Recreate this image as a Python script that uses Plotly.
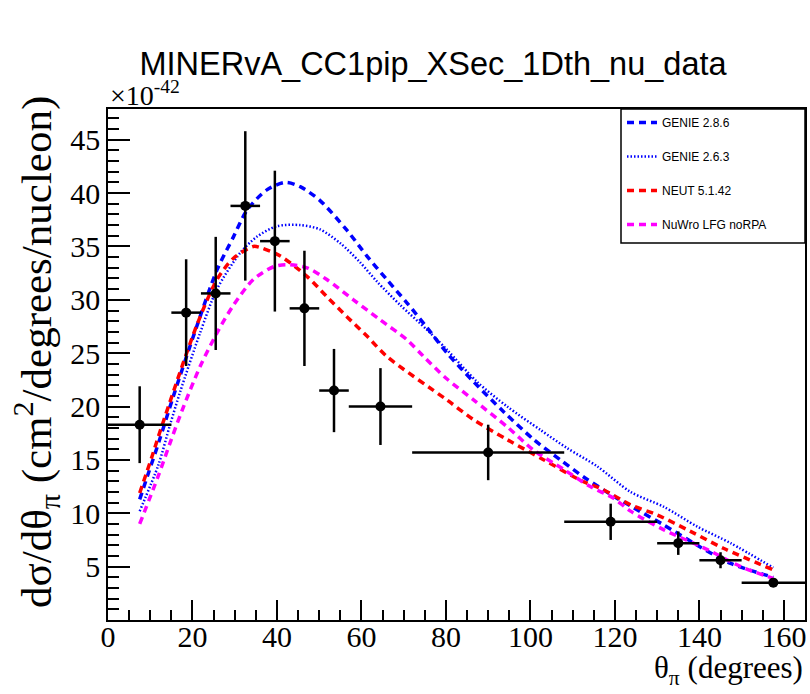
import plotly.graph_objects as go

# ---- data ----
data_x = [7.5, 18.5, 25.5, 32.5, 39.5, 46.5, 53.5, 64.5, 90, 119, 135, 145, 157.5]
bin_lo = [0, 15, 22, 29, 36, 43, 50, 57, 72, 108, 130, 140, 150]
bin_hi = [15, 22, 29, 36, 43, 50, 57, 72, 108, 130, 140, 150, 165]
data_y = [18.3, 28.8, 30.6, 38.8, 35.5, 29.2, 21.5, 20.0, 15.7, 9.2, 7.2, 5.6, 3.5]
data_err = [3.6, 5.0, 5.3, 7.0, 6.6, 5.4, 3.9, 3.6, 2.6, 1.7, 1.1, 0.75, 0.4]

genie286_x = [7.5, 9.6, 12.3, 15.5, 21.0, 25.8, 29.7, 32.9, 37.6, 42.0, 45.5, 50.2, 56.6, 61.3,
              66.0, 70.8, 75.5, 80.3, 86.6, 93.7, 100.8, 107.1, 112.6, 119.7, 124.5, 131.6,
              139.5, 147.4, 157.5]
genie286_y = [11.3, 13.8, 17.0, 21.0, 27.5, 32.8, 35.9, 38.4, 40.3, 41.0, 40.6, 39.3, 36.5, 34.1,
              31.9, 29.7, 27.4, 25.0, 22.3, 19.5, 16.9, 15.0, 13.4, 11.6, 10.5, 8.9,
              7.0, 5.3, 4.0]

genie263_x = [7.5, 11.9, 14.7, 17.1, 21.8, 25.8, 31.3, 35.2, 40.0, 45.5, 50.2, 55.0, 59.7, 63.7,
              69.2, 75.5, 80.3, 87.4, 94.5, 102.4, 108.7, 115.8, 123.7, 131.6, 139.5, 147.4, 157.5]
genie263_y = [10.2, 14.5, 18.3, 21.4, 26.9, 31.0, 34.4, 35.9, 36.9, 37.0, 36.6, 35.3, 33.5, 31.7,
              29.5, 27.2, 25.3, 22.3, 20.0, 17.8, 16.1, 14.4, 12.0, 10.6, 8.75, 7.2, 4.9]

neut_x = [7.5, 10.4, 12.6, 21.0, 25.8, 29.7, 34.4, 36.0, 40.8, 47.1, 51.8, 56.6, 61.3, 66.0,
          80.3, 86.6, 94.5, 103.2, 111.8, 117.3, 123.7, 130.0, 137.9, 145.8, 157.5]
neut_y = [11.9, 15.3, 18.0, 27.6, 31.9, 33.9, 35.0, 34.9, 34.1, 32.2, 30.3, 28.4, 26.6, 24.7,
          20.6, 18.75, 16.9, 15.0, 13.1, 12.2, 10.8, 9.85, 8.3, 6.7, 4.7]

nuwro_x = [7.5, 11.9, 14.7, 17.5, 21.8, 25.8, 29.7, 34.4, 39.2, 42.3, 47.1, 51.8, 58.1, 64.5,
           70.8, 74.7, 79.9, 86.6, 94.5, 100.8, 107.9, 114.2, 119.7, 123.7, 131.6, 141.9, 149.8, 157.5]
nuwro_y = [9.0, 13.5, 16.6, 19.6, 23.75, 26.9, 29.5, 31.9, 33.1, 33.3, 33.0, 31.9, 30.0, 28.1,
           26.25, 24.7, 22.7, 20.6, 18.1, 15.9, 14.1, 12.5, 11.4, 10.2, 8.45, 6.6, 5.0, 3.9]

x_ticks = [0, 20, 40, 60, 80, 100, 120, 140, 160]
y_ticks = [5, 10, 15, 20, 25, 30, 35, 40, 45]

# ---- figure ----
fig = go.Figure()

models = [
    ("GENIE 2.8.6", genie286_x, genie286_y, "#0000ff", "7px,5px", 3.5),
    ("GENIE 2.6.3", genie263_x, genie263_y, "#0000ff", "1.5px,2px", 2.5),
    ("NEUT 5.1.42", neut_x, neut_y, "#ff0000", "7px,5px", 3.5),
    ("NuWro LFG noRPA", nuwro_x, nuwro_y, "#ff00ff", "7px,5px", 3.5),
]
for name, xs, ys, col, dash, w in models:
    fig.add_trace(go.Scatter(
        x=xs, y=ys, mode="lines", name=name, legendgroup=name,
        line=dict(shape="spline", smoothing=0.8, color=col, dash=dash, width=w),
    ))

fig.add_trace(go.Scatter(
    x=data_x, y=data_y, mode="markers", showlegend=False,
    marker=dict(color="black", size=10),
    error_x=dict(type="data", symmetric=False,
                 array=[h - c for h, c in zip(bin_hi, data_x)],
                 arrayminus=[c - l for c, l in zip(data_x, bin_lo)],
                 color="black", thickness=2.5, width=0),
    error_y=dict(type="data", array=data_err, color="black", thickness=2.5, width=0),
))

serif = "Liberation Serif, Times New Roman, serif"
sans = "Liberation Sans, Arial, sans-serif"

W, H = 810, 694
PL, PT, PR, PB = 108, 109, 805, 620          # plot frame in page pixels
L, T, R, B = PL, PT, W - PR, H - PB
pw, ph = PR - PL, PB - PT


def px(xp):
    return (xp - PL) / pw


def py(yp):
    return (PB - yp) / ph


fig.update_layout(
    width=W, height=H,
    margin=dict(l=L, r=R, t=T, b=B, pad=0, autoexpand=False),
    paper_bgcolor="white", plot_bgcolor="white",
    showlegend=True,
    legend=dict(x=px(622), y=py(108), xanchor="left", yanchor="top",
                bgcolor="rgba(0,0,0,0)", borderwidth=0,
                font=dict(family=sans, size=12, color="black"),
                tracegroupgap=15),
    title=dict(text="MINERvA_CC1pip_XSec_1Dth_nu_data", x=433 / W, xanchor="center",
               y=1 - 64 / H, yanchor="middle", automargin=False,
               font=dict(family=sans, size=32.5, color="black")),
    xaxis=dict(range=[0, 165], tickmode="array", tickvals=x_ticks, automargin=False,
               ticks="inside", ticklen=20, tickwidth=1.5, tickcolor="black",
               ticklabelstandoff=-11,
               minor=dict(dtick=5, ticks="inside", ticklen=10, tickwidth=1.5, tickcolor="black"),
               showline=True, linecolor="black", linewidth=1.5, mirror=True,
               showgrid=False, zeroline=False,
               tickfont=dict(family=serif, size=30, color="black")),
    yaxis=dict(range=[0, 47.88], tickmode="array", tickvals=y_ticks, automargin=False,
               ticks="inside", ticklen=22, tickwidth=1.5, tickcolor="black",
               minor=dict(dtick=1, ticks="inside", ticklen=11, tickwidth=1.5, tickcolor="black"),
               showline=True, linecolor="black", linewidth=1.5, mirror=True,
               showgrid=False, zeroline=False,
               tickfont=dict(family=serif, size=30, color="black")),
    shapes=[
        dict(type="rect", xref="paper", yref="paper",
             x0=px(621), x1=1.0, y0=py(243), y1=1.0,
             line=dict(color="black", width=1.5), fillcolor="rgba(0,0,0,0)", layer="above"),
    ],
    annotations=[
        dict(text="dσ/dθ<sub>π</sub> (cm<sup>2</sup>/degrees/nucleon)", xref="paper", yref="paper",
             x=px(36), y=py(352), xanchor="center", yanchor="middle",
             textangle=-90, showarrow=False, font=dict(family=serif, size=43, color="black")),
        dict(text="θ<sub>π</sub> (degrees)", xref="paper", yref="paper",
             x=1.0, y=py(670), xanchor="right", yanchor="middle",
             showarrow=False, font=dict(family=serif, size=31, color="black")),
        dict(text="×10<sup>-42</sup>", xref="paper", yref="paper",
             x=0, y=py(93), xanchor="left", yanchor="middle",
             showarrow=False, font=dict(family=serif, size=28, color="black")),
    ],
)

page_css = ("document.body.style.margin='0';document.body.style.padding='0';"
            "document.body.style.overflow='hidden';"
            "document.documentElement.style.overflow='hidden';")
fig.write_html("out.html", post_script=page_css, config={"displayModeBar": False})
